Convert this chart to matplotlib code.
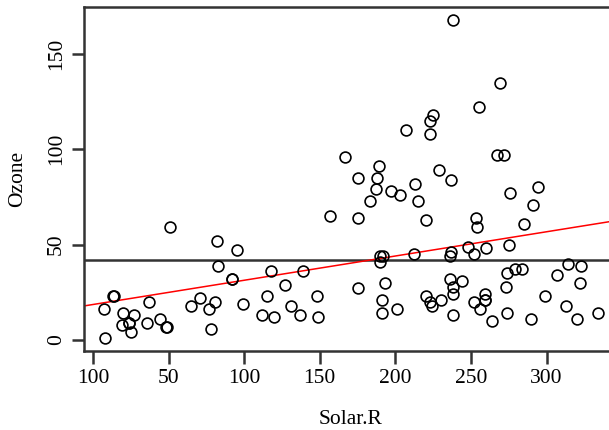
import numpy as np
import matplotlib
matplotlib.use("Agg")
import matplotlib.pyplot as plt

# airquality complete cases (Solar.R, Ozone)
solar_r = [190, 118, 149, 313, 299, 99, 19, 256, 290, 274, 65, 334, 307, 78, 322, 44, 8, 320, 25, 92,
           13, 252, 223, 279, 127, 291, 323, 148, 191, 284, 37, 120, 137, 269, 248, 236, 175, 314, 276, 267,
           272, 175, 264, 175, 48, 260, 274, 285, 187, 220, 7, 294, 223, 81, 82, 213, 275, 253, 254, 83,
           24, 77, 255, 229, 207, 192, 273, 157, 71, 51, 115, 244, 190, 259, 36, 212, 238, 215, 203, 225,
           237, 188, 167, 197, 183, 189, 95, 92, 252, 220, 230, 259, 236, 259, 238, 24, 112, 237, 224, 27,
           238, 201, 238, 14, 139, 49, 20, 193, 191, 131, 223]
ozone = [41, 36, 12, 18, 23, 19, 8, 16, 11, 14, 18, 14, 34, 6, 30, 11, 1, 11, 4, 32,
         23, 45, 115, 37, 29, 71, 39, 23, 21, 37, 20, 12, 13, 135, 49, 32, 64, 40, 77, 97,
         97, 85, 10, 27, 7, 48, 35, 61, 79, 63, 16, 80, 108, 20, 52, 82, 50, 64, 59, 39,
         9, 16, 122, 89, 110, 44, 28, 65, 22, 59, 23, 31, 44, 21, 9, 45, 168, 73, 76, 118,
         84, 85, 96, 78, 73, 91, 47, 32, 20, 23, 21, 24, 44, 21, 28, 9, 13, 46, 18, 13,
         24, 16, 13, 23, 36, 7, 14, 30, 14, 18, 20]

xtick_pos = [0, 50, 100, 150, 200, 250, 300]
xtick_labels = ['100', '50', '100', '150', '200', '250', '300']
ytick_pos = [0, 50, 100, 150]

plt.rcParams['font.family'] = ['Liberation Serif', 'DejaVu Serif']

fig = plt.figure(figsize=(6.09, 4.30), dpi=100)
ax = fig.add_axes([0.1376, 0.1842, 0.8768, 0.7998])

x = np.array(solar_r)
y = np.array(ozone)
ax.plot(x, y, 'o', mfc='none', mec='black', ms=7.8, mew=1.2, zorder=3)

ax.axhline(y.mean(), color='#333333', lw=1.8, zorder=2)
b, a = np.polyfit(x, y, 1)
ax.axline((0, a), slope=b, color='red', lw=1.1, zorder=2)

ax.set_xlim(-6.08, 347.08)
ax.set_ylim(-5.68, 174.68)
ax.set_xticks(xtick_pos)
ax.set_xticklabels(xtick_labels)
ax.set_yticks(ytick_pos)
ax.set_yticklabels([str(v) for v in ytick_pos], rotation=90, va='center')

for s in ax.spines.values():
    s.set_color('#333333')
    s.set_linewidth(1.8)
ax.tick_params(length=9, width=1.8, color='#333333', labelsize=15.5, pad=4)

ax.set_xlabel('Solar.R', fontsize=15.5, labelpad=16)
ax.set_ylabel('Ozone', fontsize=15.5, labelpad=14)

fig.savefig('out.png', dpi=100)
